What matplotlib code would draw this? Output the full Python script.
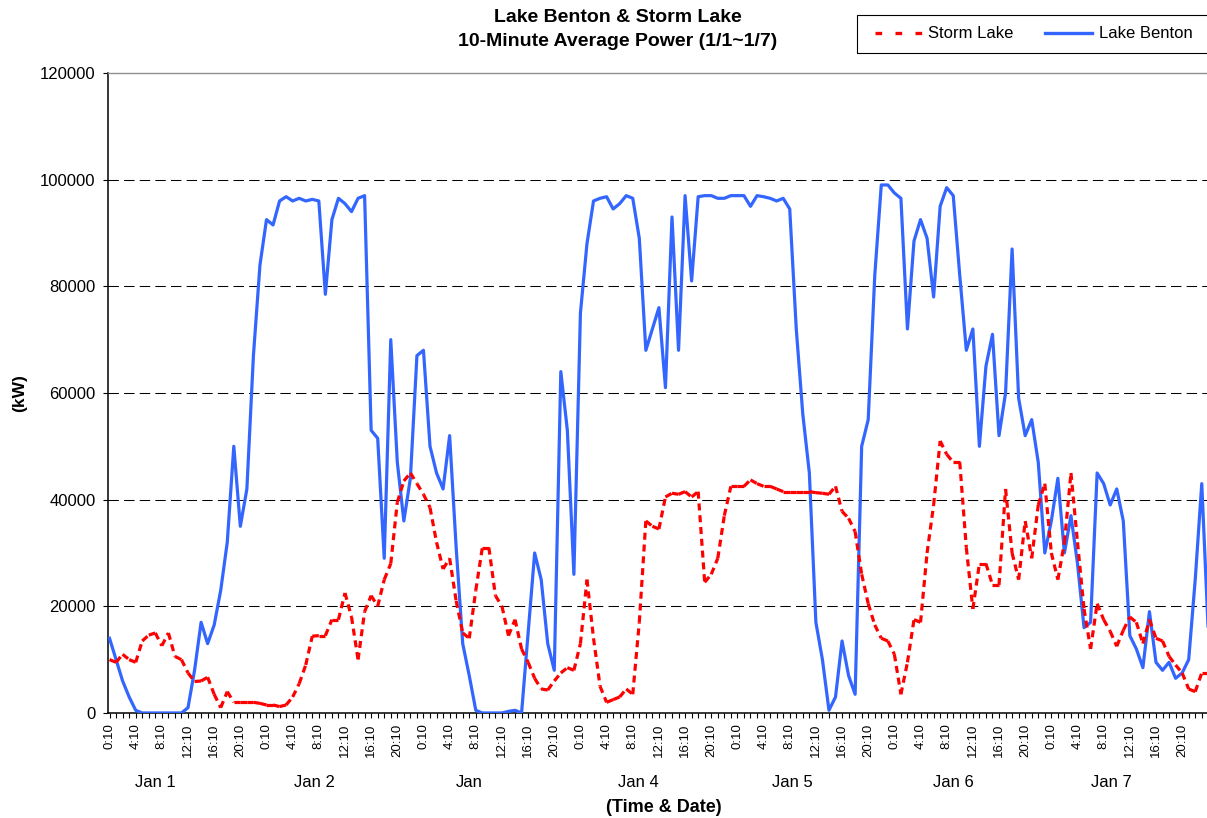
import numpy as np
import matplotlib
matplotlib.use('Agg')
import matplotlib.pyplot as plt
from matplotlib.collections import LineCollection
from matplotlib.lines import Line2D
from matplotlib.patches import Rectangle
from matplotlib.ticker import MultipleLocator, FixedLocator

plt.rcParams['font.family'] = ['Liberation Sans', 'DejaVu Sans']

# hourly readings (hour 0 = Jan 1 0:10)
hours = np.arange(169)

lake_benton = [
    14000, 10000, 6000, 3000, 500, 0, 0, 0, 0, 0,
    0, 0, 1000, 8000, 17000, 13000, 16500, 23000, 32000, 50000,
    35000, 42000, 67000, 84000, 92500, 91500, 96000, 96800, 96000, 96500,
    96000, 96300, 96000, 78500, 92500, 96500, 95500, 94000, 96500, 97000,
    53000, 51500, 29000, 70000, 47000, 36000, 44000, 67000, 68000, 50000,
    45000, 42000, 52000, 31000, 13000, 7000, 500, 0, 0, 0,
    0, 300, 500, 0, 15000, 30000, 25000, 13000, 8000, 64000,
    53000, 26000, 75000, 88000, 96000, 96500, 96800, 94500, 95500, 97000,
    96500, 89000, 68000, 72000, 76000, 61000, 93000, 68000, 97000, 81000,
    96800, 97000, 97000, 96500, 96500, 97000, 97000, 97000, 95000, 97000,
    96800, 96500, 96000, 96500, 94500, 72000, 56000, 45000, 17000, 10000,
    500, 3000, 13500, 7000, 3500, 50000, 55000, 82000, 99000, 99000,
    97500, 96500, 72000, 88500, 92500, 89000, 78000, 95000, 98500, 97000,
    82000, 68000, 72000, 50000, 65000, 71000, 52000, 60000, 87000, 59000,
    52000, 55000, 47000, 30000, 36000, 44000, 30000, 37000, 28000, 16000,
    17000, 45000, 43000, 39000, 42000, 36000, 14500, 12000, 8500, 19000,
    9500, 8000, 9500, 6500, 7500, 10000, 25000, 43000, 15000,
]

storm_lake = [
    10000, 9500, 11000, 10000, 9500, 13500, 14600, 15000, 12600, 15000,
    10600, 10000, 7500, 5900, 6000, 6700, 3500, 1000, 4000, 2000,
    2000, 2000, 2000, 1800, 1500, 1500, 1200, 1500, 3000, 5500,
    9000, 14400, 14500, 14500, 17500, 17500, 22500, 18000, 10000, 19000,
    22000, 20000, 25000, 28000, 39500, 43500, 45000, 43000, 41000, 38500,
    32000, 27000, 29000, 21000, 15000, 14000, 23000, 31000, 31000, 22000,
    20000, 14500, 17500, 12000, 9500, 6500, 4500, 4300, 6000, 7500,
    8500, 8000, 13000, 25000, 14000, 5000, 2000, 2500, 3000, 4500,
    3500, 17000, 36000, 35000, 34500, 40500, 41200, 41000, 41500, 40500,
    41500, 24500, 26000, 29000, 37000, 42500, 42500, 42500, 43700, 43000,
    42500, 42500, 42000, 41500, 41500, 41500, 41500, 41500, 41300, 41200,
    41000, 42500, 37800, 36500, 34000, 26000, 20500, 16500, 14000, 13500,
    11000, 3500, 9500, 17500, 17000, 30000, 39000, 51000, 48500, 47000,
    47000, 31000, 19500, 28000, 28000, 24000, 24000, 42000, 30000, 25000,
    36000, 29000, 39000, 43000, 30000, 25000, 32000, 45000, 32000, 19500,
    12000, 20500, 17500, 15300, 12500, 15500, 18000, 17000, 13000, 17500,
    14000, 13500, 10600, 9000, 7500, 4500, 4000, 7500, 7500,
]

time_labels = ['0:10', '4:10', '8:10', '12:10', '16:10', '20:10'] * 7
day_labels = ['Jan 1', 'Jan 2', 'Jan', 'Jan 4', 'Jan 5', 'Jan 6', 'Jan 7']
day_label_hours = [7.0, 31.3, 55.0, 80.9, 104.4, 129.0, 153.2]

fig = plt.figure(figsize=(12.07, 8.18), dpi=100)
ax = fig.add_axes([0.0895, 0.1284, 0.9105, 0.7824])

blue = '#3366FF'
red = '#FF0000'

# Lake Benton solid line
ax.plot(hours, lake_benton, color=blue, lw=2.3, solid_joinstyle='round', zorder=3)

# Storm Lake: dash pattern restarts on every segment, like the original
pts = np.column_stack([hours, storm_lake])
segs = np.stack([pts[:-1], pts[1:]], axis=1)
lc = LineCollection(segs, colors=red, linewidths=2.3,
                    linestyles=[(0, (2.2, 1.5))], zorder=4)
ax.add_collection(lc)

ax.set_xlim(-0.23, 167.8)
ax.set_ylim(0, 120000)

yticks = list(range(0, 120001, 20000))
ax.set_yticks(yticks)
ax.set_yticklabels([str(v) for v in yticks], fontsize=12)
for v in yticks[1:-1]:
    ax.axhline(v, color='black', lw=0.75, ls=(0, (10, 5)), zorder=1)

ax.xaxis.set_major_locator(FixedLocator(list(range(0, 168, 4))))
ax.xaxis.set_minor_locator(MultipleLocator(1))
ax.set_xticklabels(time_labels, rotation=90, fontsize=9.5)
ax.tick_params(axis='both', which='both', direction='out', length=3.6,
               width=0.8, color='black')
ax.tick_params(axis='x', which='major', pad=4)
ax.tick_params(axis='y', which='major', pad=5.5)

for s in ['left', 'bottom']:
    ax.spines[s].set_linewidth(1.1)
    ax.spines[s].set_color('black')
ax.spines['right'].set_visible(False)
ax.spines['top'].set_color('#909090')
ax.spines['top'].set_linewidth(1.0)

xt = ax.get_xaxis_transform()
for lab, h in zip(day_labels, day_label_hours):
    ax.text(h, -0.109, lab, transform=xt, ha='center', va='center', fontsize=12)

fig.text(664 / 1207, 1 - 807 / 818, '(Time & Date)', ha='center', va='center',
         fontsize=13, fontweight='bold')
fig.text(20 / 1207, 1 - 393 / 818, '(kW)', ha='center', va='center',
         rotation=90, fontsize=12.5, fontweight='bold')

fig.text(618 / 1207, 1 - 18 / 818, 'Lake Benton & Storm Lake', ha='center',
         va='center', fontsize=14, fontweight='bold')
fig.text(618 / 1207, 1 - 42 / 818, '10-Minute Average Power (1/1~1/7)',
         ha='center', va='center', fontsize=14, fontweight='bold')

# legend box runs off the right edge
fig.patches.append(Rectangle((857 / 1207, 1 - 53 / 818), 370 / 1207, 38 / 818,
                             transform=fig.transFigure, fill=False,
                             edgecolor='black', lw=0.8))
handles = [Line2D([], [], color=red, lw=2.4, ls=(0, (2, 4))),
           Line2D([], [], color=blue, lw=2.4)]
fig.legend(handles, ['Storm Lake', 'Lake Benton'], ncol=2, frameon=False,
           loc='center left', bbox_to_anchor=(875 / 1207, 1 - 34 / 818),
           borderpad=0, borderaxespad=0, handlelength=2.8, handletextpad=0.4,
           columnspacing=1.9, fontsize=12)

fig.savefig('out.png', dpi=100)
